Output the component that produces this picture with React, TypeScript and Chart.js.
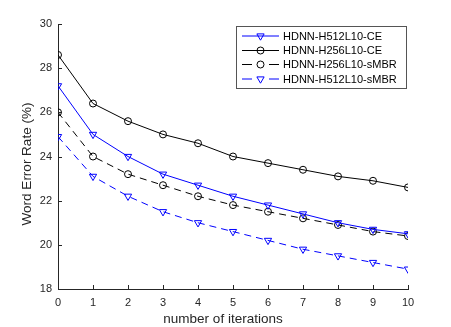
import React, { useEffect, useRef } from "react";
import { Chart, registerables } from "chart.js";

Chart.register(...registerables);

const iterations = [0, 1, 2, 3, 4, 5, 6, 7, 8, 9, 10];
const h512CE = [27.2, 25.0, 24.0, 23.2, 22.7, 22.2, 21.8, 21.4, 21.0, 20.7, 20.5];
const h256CE = [28.6, 26.4, 25.6, 25.0, 24.6, 24.0, 23.7, 23.4, 23.1, 22.9, 22.6];
const h256SMBR = [26.0, 24.0, 23.2, 22.7, 22.2, 21.8, 21.5, 21.2, 20.9, 20.6, 20.4];
const h512SMBR = [24.9, 23.1, 22.2, 21.5, 21.0, 20.6, 20.2, 19.8, 19.5, 19.2, 18.9];
const seriesLabels = ["HDNN-H512L10-CE", "HDNN-H256L10-CE", "HDNN-H256L10-sMBR", "HDNN-H512L10-sMBR"];
const yTicks = [18, 20, 22, 24, 26, 28, 30];
const xTitle = "number of iterations";
const yTitle = "Word Error Rate (%)";

const FONT = "'Liberation Sans', Arial, Helvetica, sans-serif";
const AXIS_COLOR = "#262626";
const DASH = [7, 5];

function drawMarker(ctx: CanvasRenderingContext2D, style: string, x: number, y: number, color: string) {
  ctx.save();
  ctx.strokeStyle = color;
  ctx.lineWidth = 1;
  ctx.setLineDash([]);
  ctx.beginPath();
  if (style === "circle") {
    ctx.arc(x, y, 3.5, 0, Math.PI * 2);
  } else {
    const r = 4.2;
    ctx.moveTo(x, y + r);
    ctx.lineTo(x - r * Math.sin(Math.PI / 3), y - r / 2);
    ctx.lineTo(x + r * Math.sin(Math.PI / 3), y - r / 2);
    ctx.closePath();
  }
  ctx.stroke();
  ctx.restore();
}

const decorPlugin = {
  id: "decor",
  afterDraw(chart: any) {
    const ctx: CanvasRenderingContext2D = chart.ctx;
    const xs = chart.scales.x;
    const ys = chart.scales.y;
    const area = chart.chartArea;
    ctx.save();
    // inward tick marks
    ctx.strokeStyle = AXIS_COLOR;
    ctx.lineWidth = 1;
    ctx.beginPath();
    for (const t of yTicks) {
      const py = Math.round(ys.getPixelForValue(t)) + 0.5;
      ctx.moveTo(area.left, py);
      ctx.lineTo(area.left + 4, py);
    }
    for (const t of iterations) {
      const px = Math.round(xs.getPixelForValue(t)) + 0.5;
      ctx.moveTo(px, area.bottom);
      ctx.lineTo(px, area.bottom - 4);
    }
    ctx.stroke();

    // axis titles
    ctx.fillStyle = AXIS_COLOR;
    ctx.font = `13.5px ${FONT}`;
    ctx.textAlign = "center";
    ctx.textBaseline = "middle";
    ctx.fillText(xTitle, 223, 319);
    ctx.save();
    ctx.translate(27, 164);
    ctx.rotate(-Math.PI / 2);
    ctx.fillText(yTitle, 0, 0);
    ctx.restore();

    // legend
    const bx = 236.5, by = 26.5, bw = 170, bh = 62;
    ctx.fillStyle = "#ffffff";
    ctx.fillRect(bx, by, bw, bh);
    ctx.strokeStyle = "#555555";
    ctx.lineWidth = 1;
    ctx.strokeRect(bx, by, bw, bh);
    const rows = [36, 50.5, 64.5, 79];
    chart.data.datasets.forEach((ds: any, i: number) => {
      const y = rows[i];
      const color = ds.borderColor;
      ctx.save();
      ctx.strokeStyle = color;
      ctx.lineWidth = 1;
      ctx.beginPath();
      if (ds.borderDash && ds.borderDash.length) {
        ctx.moveTo(242, y); ctx.lineTo(252, y);
        ctx.moveTo(269, y); ctx.lineTo(279, y);
      } else {
        ctx.moveTo(242, y); ctx.lineTo(279, y);
      }
      ctx.stroke();
      ctx.restore();
      drawMarker(ctx, ds.pointStyle === "circle" ? "circle" : "triangle", 260.5, y, color);
      ctx.fillStyle = "#000";
      ctx.font = `11px ${FONT}`;
      ctx.textAlign = "left";
      ctx.textBaseline = "middle";
      ctx.fillText(ds.label, 283, y + 0.5);
    });
    ctx.restore();
  },
};

export default function App() {
  const ref = useRef<HTMLCanvasElement | null>(null);
  useEffect(() => {
    const mk = (vals: number[]) => iterations.map((x, i) => ({ x, y: vals[i] }));
    const common = {
      borderWidth: 1,
      pointBackgroundColor: "rgba(0,0,0,0)",
      pointBorderWidth: 1,
      fill: false,
      tension: 0,
    };
    const chart = new Chart(ref.current!, {
      type: "line",
      data: {
        datasets: [
          { ...common, label: seriesLabels[0], data: mk(h512CE), borderColor: "#0000ff", pointBorderColor: "#0000ff", pointStyle: "triangle", rotation: 180, pointRadius: 4.2, borderDash: [] },
          { ...common, label: seriesLabels[1], data: mk(h256CE), borderColor: "#000000", pointBorderColor: "#000000", pointStyle: "circle", pointRadius: 3.5, borderDash: [] },
          { ...common, label: seriesLabels[2], data: mk(h256SMBR), borderColor: "#000000", pointBorderColor: "#000000", pointStyle: "circle", pointRadius: 3.5, borderDash: DASH },
          { ...common, label: seriesLabels[3], data: mk(h512SMBR), borderColor: "#0000ff", pointBorderColor: "#0000ff", pointStyle: "triangle", rotation: 180, pointRadius: 4.2, borderDash: DASH },
        ] as any,
      },
      options: {
        animation: false,
        responsive: false,
        devicePixelRatio: 1,
        layout: { padding: { top: 24, right: 43, left: 0, bottom: 0 } },
        plugins: { legend: { display: false }, tooltip: { enabled: false } },
        scales: {
          x: {
            type: "linear",
            min: 0,
            max: 10,
            afterFit: (s: any) => { s.height = 38; },
            afterBuildTicks: (s: any) => { s.ticks = iterations.map((v) => ({ value: v })); },
            grid: { display: false, drawTicks: false },
            border: { display: true, color: AXIS_COLOR, width: 1 },
            ticks: { color: AXIS_COLOR, font: { family: FONT, size: 11 }, padding: 7, maxRotation: 0, autoSkip: false },
          },
          y: {
            type: "linear",
            min: 18,
            max: 30,
            afterFit: (s: any) => { s.width = 58; },
            afterBuildTicks: (s: any) => { s.ticks = yTicks.map((v) => ({ value: v })); },
            grid: { display: false, drawTicks: false },
            border: { display: true, color: AXIS_COLOR, width: 1 },
            ticks: { color: AXIS_COLOR, font: { family: FONT, size: 11 }, padding: 6 },
          },
        },
      } as any,
      plugins: [decorPlugin],
    });
    return () => chart.destroy();
  }, []);
  return (
    <div style={{ position: "absolute", left: 0, top: 0, width: 451, height: 327, background: "#fff" }}>
      <canvas ref={ref} width={451} height={327} style={{ width: 451, height: 327, display: "block" }} />
    </div>
  );
}
